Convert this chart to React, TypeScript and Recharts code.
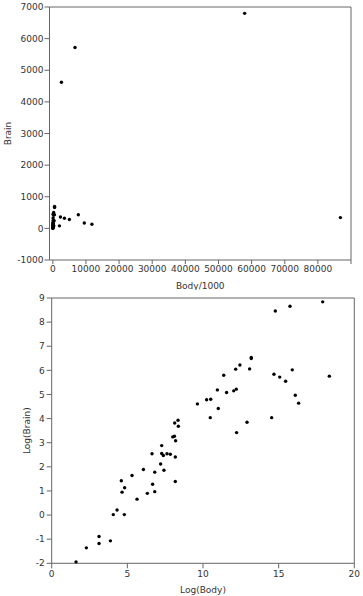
import React from 'react';
import {
  ScatterChart,
  Scatter,
  XAxis,
  YAxis,
  ReferenceLine,
} from 'recharts';

// raw scale: Body/1000 vs Brain
const rawBody = [
  6700, 2600, 57900, 86800, 2300, 3500, 5000, 7700, 9500, 11800, 2000,
  530, 530, 480, 250, 190, 100, 90, 60, 30, 20, 10, 5, 2, 1, 150, 400, 300, 200, 50, 100,
];
const rawBrain = [
  5720, 4620, 6800, 340, 360, 320, 280, 430, 170, 130, 80,
  690, 660, 430, 500, 420, 450, 330, 180, 170, 100, 60, 20, 5, 3, 150, 240, 80, 40, 120, 250,
];

// log scale
const logBody = [
  1.61, 2.29, 3.13, 3.13, 3.88, 4.07, 4.32, 4.80, 4.60, 4.65, 4.82, 5.31, 5.64,
  6.06, 6.32, 6.63, 6.67, 6.81, 6.81, 7.20, 7.27, 7.27, 7.38, 7.42, 7.62, 7.84,
  8.00, 8.11, 8.13, 8.17, 8.19, 8.17, 8.35, 8.37, 9.63, 10.24, 10.51, 10.48,
  10.95, 11.01, 11.37, 11.56, 12.03, 12.16, 12.20, 12.22, 12.44, 12.91, 13.08,
  13.19, 13.19, 14.54, 14.69, 14.78, 15.07, 15.46, 15.75, 15.90, 16.10, 16.32,
  17.91, 18.35,
];
const logBrain = [
  -1.94, -1.36, -0.89, -1.18, -1.07, 0.02, 0.21, 0.02, 1.42, 0.95, 1.13, 1.64, 0.66,
  1.89, 0.90, 2.54, 1.28, 1.78, 0.97, 2.12, 2.88, 2.55, 2.47, 1.86, 2.54, 2.52,
  3.24, 3.27, 3.82, 2.41, 3.08, 1.39, 3.93, 3.68, 4.61, 4.78, 4.80, 4.04,
  5.19, 4.42, 5.80, 5.08, 5.15, 6.05, 5.22, 3.42, 6.22, 3.85, 6.06,
  6.53, 6.49, 4.04, 5.84, 8.46, 5.72, 5.55, 8.66, 6.02, 4.97, 4.64,
  8.84, 5.76,
];

const rawTicksX = [0, 10000, 20000, 30000, 40000, 50000, 60000, 70000, 80000, 90000];
const rawTicksY = [-1000, 0, 1000, 2000, 3000, 4000, 5000, 6000, 7000];
const logTicksX = [0, 5, 10, 15, 20];
const logMinorX = [2.5, 7.5, 12.5, 17.5];
const logTicksY = [-2, -1, 0, 1, 2, 3, 4, 5, 6, 7, 8, 9];

const rawData = rawBody.map((b, i) => ({ x: b, y: rawBrain[i] }));
const logData = logBody.map((b, i) => ({ x: b, y: logBrain[i] }));

const FONT = '"DejaVu Sans", Verdana, sans-serif';
const AXIS = '#666';
const TEXT = '#333';
const tickStyle = { fontSize: 9, fill: TEXT, fontFamily: FONT };
const labelStyle = { fontSize: 9, fill: TEXT, fontFamily: FONT, textAnchor: 'middle' as const };

const Dot = (p: any) => <circle cx={p.cx} cy={p.cy} r={1.7} fill="#000" />;

export default function App() {
  return (
    <div style={{ position: 'absolute', left: 0, top: 0, width: 363, height: 596, background: '#fff' }}>
      <ScatterChart width={363} height={290} margin={{ top: 7, right: 12, bottom: 0, left: 0 }}>
        <XAxis
          type="number"
          dataKey="x"
          domain={[-1000, 90000]}
          ticks={rawTicksX}
          interval={0}
          tickFormatter={(v: number) => (v === 90000 ? '' : String(v))}
          height={30}
          stroke={AXIS}
          tickSize={4}
          tickMargin={2}
          tick={tickStyle}
          label={{ value: 'Body/1000', position: 'insideBottom', offset: 1.5, style: labelStyle }}
        />
        <YAxis
          type="number"
          dataKey="y"
          domain={[-1000, 7000]}
          ticks={rawTicksY}
          interval={0}
          width={49.5}
          stroke={AXIS}
          tickSize={5}
          tickMargin={1}
          tick={tickStyle}
          label={{ value: 'Brain', angle: -90, position: 'insideLeft', offset: 7.5, style: labelStyle }}
        />
        <ReferenceLine y={7000} stroke={AXIS} />
        <ReferenceLine x={90000} stroke={AXIS} />
        <Scatter data={rawData} shape={Dot} isAnimationActive={false} />
      </ScatterChart>
      <ScatterChart width={363} height={306} margin={{ top: 8, right: 8.7, bottom: 0, left: 0 }}>
        <XAxis
          xAxisId="minor"
          type="number"
          domain={[0, 20]}
          ticks={logMinorX}
          interval={0}
          height={0}
          axisLine={false}
          tickSize={2.5}
          stroke={AXIS}
          tickFormatter={() => ''}
          tick={tickStyle}
        />
        <XAxis
          type="number"
          dataKey="x"
          domain={[0, 20]}
          ticks={logTicksX}
          interval={0}
          height={32.7}
          stroke={AXIS}
          tickSize={5}
          tickMargin={2}
          tick={tickStyle}
          label={{ value: 'Log(Body)', position: 'insideBottom', offset: 3.5, style: labelStyle }}
        />
        <YAxis
          type="number"
          dataKey="y"
          domain={[-2, 9]}
          ticks={logTicksY}
          interval={0}
          width={51.7}
          stroke={AXIS}
          tickSize={5}
          tickMargin={2}
          tick={tickStyle}
          label={{ value: 'Log(Brain)', angle: -90, position: 'insideLeft', offset: 27, style: labelStyle }}
        />
        <ReferenceLine y={9} stroke={AXIS} />
        <ReferenceLine x={20} stroke={AXIS} />
        <Scatter data={logData} shape={Dot} isAnimationActive={false} />
      </ScatterChart>
    </div>
  );
}
